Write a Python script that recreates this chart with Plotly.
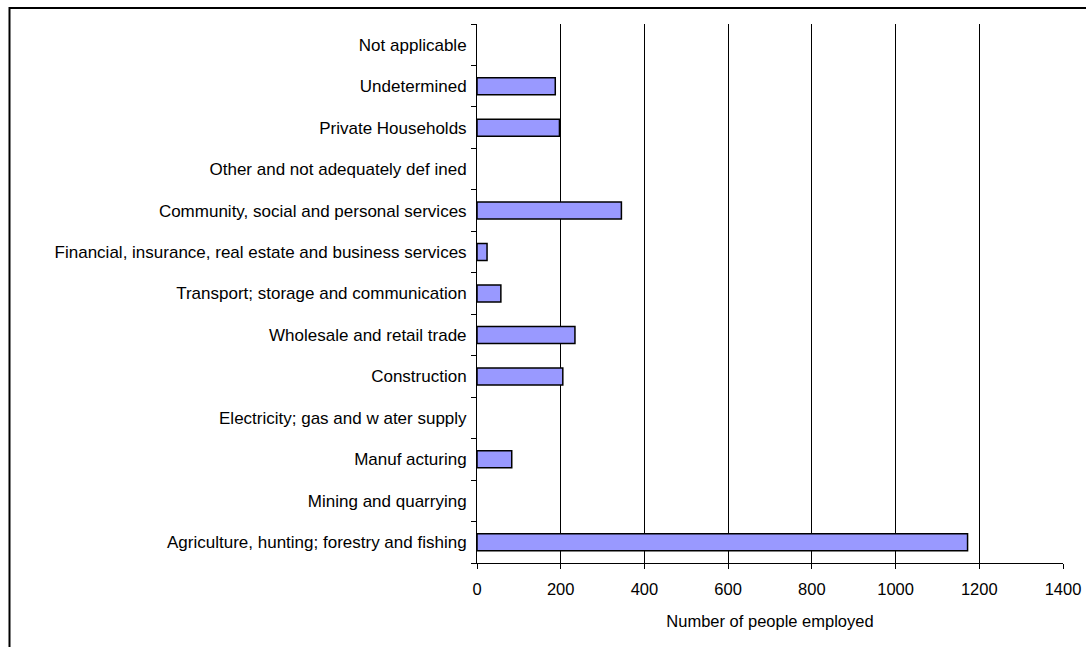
import plotly.graph_objects as go

# Employment by industry (bottom to top as drawn)
industries = [
    "Agriculture, hunting; forestry and fishing",
    "Mining and quarrying",
    "Manuf acturing",
    "Electricity; gas and w ater supply",
    "Construction",
    "Wholesale and retail trade",
    "Transport; storage and communication",
    "Financial, insurance, real estate and business services",
    "Community, social and personal services",
    "Other and not adequately def ined",
    "Private Households",
    "Undetermined",
    "Not applicable",
]
employed = [1172, 0, 83, 0, 205, 234, 57, 24, 345, 0, 197, 187, 0]

x_ticks = [0, 200, 400, 600, 800, 1000, 1200, 1400]

W, H = 1086, 647
ml, mr, mt, mb = 477, 23, 24, 84
pw, ph = W - ml - mr, H - mt - mb

# empty categories get no outline
outline_w = [1.5 if v > 0 else 0 for v in employed]

fig = go.Figure(
    go.Bar(
        y=industries,
        x=employed,
        orientation="h",
        marker=dict(color="#9999FF", line=dict(color="black", width=outline_w)),
        hoverinfo="x+y",
    )
)

family = "Liberation Sans, Arial, sans-serif"
font = dict(family=family, size=16.5, color="black")

fig.update_layout(
    template="none",
    width=W,
    height=H,
    margin=dict(l=ml, r=mr, t=mt, b=mb, pad=0),
    paper_bgcolor="white",
    plot_bgcolor="white",
    font=font,
    bargap=0.59,
    showlegend=False,
    xaxis=dict(
        range=[0, 1400],
        tickvals=x_ticks,
        ticktext=[str(v) for v in x_ticks],
        tickfont=dict(family=family, size=16.5, color="black"),
        showgrid=True,
        gridcolor="black",
        gridwidth=1,
        zeroline=False,
        showline=True,
        linecolor="black",
        linewidth=1,
        ticks="outside",
        ticklen=5,
        tickcolor="black",
        ticklabelstandoff=6,
        automargin=False,
        title=dict(text="Number of people employed", font=font, standoff=18),
        fixedrange=True,
    ),
    yaxis=dict(
        categoryorder="array",
        categoryarray=industries,
        tickfont=dict(family=family, size=17, color="black"),
        showgrid=False,
        zeroline=False,
        showline=True,
        linecolor="black",
        linewidth=1,
        ticks="outside",
        tickson="boundaries",
        ticklen=5,
        tickcolor="black",
        ticklabelstandoff=6,
        automargin=False,
        fixedrange=True,
    ),
    shapes=[
        # outer chart frame, partly running off the page
        dict(
            type="rect",
            xref="paper",
            yref="paper",
            x0=(9.5 - ml) / pw,
            x1=(W + 20 - ml) / pw,
            y0=-(mb + 20) / ph,
            y1=(ph + mt - 8) / ph,
            line=dict(color="black", width=2),
            layer="above",
        )
    ],
)

fig.write_html("out.html")
